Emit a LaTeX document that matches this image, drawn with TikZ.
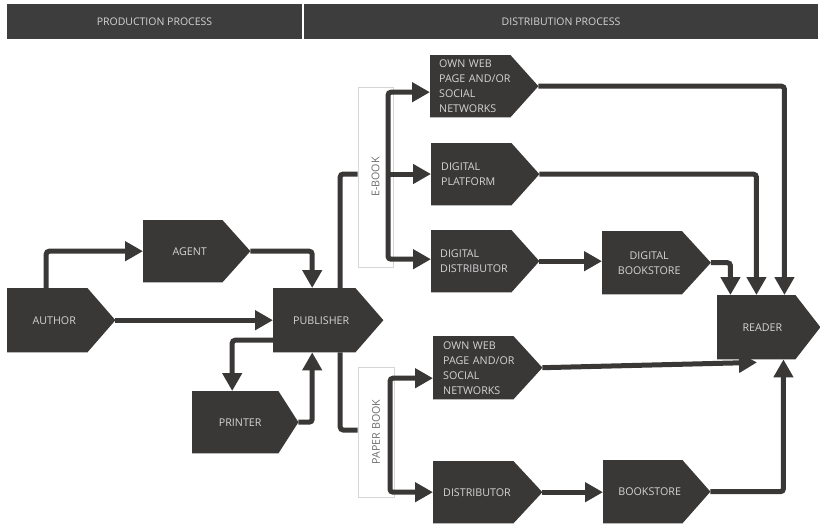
\documentclass[tikz,border=0pt]{standalone}
\usepackage{fontspec}
\setmainfont{Open Sans}
\usetikzlibrary{arrows.meta,calc}
\pgfdeclarelayer{lines}
\pgfdeclarelayer{fills}
\pgfsetlayers{lines,fills,main}

\definecolor{ink}{HTML}{3A3737}
\definecolor{band}{HTML}{3D3D3D}
\definecolor{txt}{HTML}{D4D4D4}
\definecolor{frame}{HTML}{D6D6D6}
\definecolor{booktxt}{HTML}{6E6E6E}

\newcommand\tagfont{\fontsize{10.7}{15}\selectfont}

% fills the pentagon behind a box node and names its pointer tip
\newcommand\tagfill[2]{%
  \fill[ink] (#1.north west) -- ([xshift=-#2]#1.north east) -- ([xshift=#2]#1.east)
    -- ([xshift=-#2]#1.south east) -- (#1.south west) -- cycle;
  \coordinate (#1-tip) at ([xshift=#2]#1.east);}

\tikzset{
  x=1pt, y=-1pt,
  tag/.style={anchor=north west, inner sep=0pt, text=txt, font=\tagfont},
  head/.style={fill=band, text=txt, inner sep=0pt, minimum height=35pt,
    font=\fontsize{10.5}{12}\selectfont},
  bookbox/.style={draw=frame, line width=0.6pt, fill=white, inner sep=0pt,
    text=booktxt, font=\fontsize{10.7}{12}\selectfont},
  link/.style={draw=ink, line width=5pt, rounded corners=3pt,
    -{Triangle[length=18pt,width=19pt]}},
  feed/.style={draw=ink, line width=5pt, rounded corners=3pt},
}

\begin{document}
\begin{tikzpicture}
\useasboundingbox (0,0) rectangle (820,525);

% header band
\node[head, minimum width=295pt] (prod) at (154.5,21.5) {PRODUCTION PROCESS};
\node[head, minimum width=514pt] (dist) at (561,21.5) {DISTRIBUTION PROCESS};

% production side
\node[tag, minimum width=94pt, minimum height=64pt] (author) at (7,288) {AUTHOR};
\node[tag, minimum width=93pt, minimum height=62pt] (agent) at (143,220) {AGENT};
\node[tag, minimum width=96pt, minimum height=64pt] (publisher) at (273,288) {PUBLISHER};
\node[tag, minimum width=96pt, minimum height=62pt] (printer) at (192,391) {PRINTER};

% e-book channels
\node[tag, minimum width=94pt, minimum height=62pt, align=left, text width=76pt]
  (webE) at (430,55) {OWN WEB\\PAGE AND/OR\\SOCIAL\\NETWORKS};
\node[tag, minimum width=94pt, minimum height=62pt, align=left, text width=74pt]
  (platform) at (431,143) {DIGITAL\\PLATFORM};
\node[tag, minimum width=94pt, minimum height=62pt, align=left, text width=76pt]
  (ddist) at (431,230) {DIGITAL\\DISTRIBUTOR};
\node[tag, minimum width=94pt, minimum height=63pt, align=center]
  (dstore) at (602,231) {DIGITAL\\BOOKSTORE};

% reader
\node[tag, minimum width=90.5pt, minimum height=64pt] (reader) at (717,295) {READER};

% paper book channels
\node[tag, minimum width=94.5pt, minimum height=63pt, align=left, text width=74.5pt]
  (webP) at (433,336) {OWN WEB\\PAGE AND/OR\\SOCIAL\\NETWORKS};
\node[tag, minimum width=94.5pt, minimum height=62pt, align=left, text width=74.5pt]
  (distrib) at (433,461) {DISTRIBUTOR};
\node[tag, minimum width=93pt, minimum height=63pt] (store) at (603,460) {BOOKSTORE};

\begin{pgfonlayer}{fills}
  \tagfill{author}{14pt}
  \tagfill{agent}{14pt}
  \tagfill{publisher}{14pt}
  \tagfill{printer}{10pt}
  \tagfill{webE}{14pt}
  \tagfill{platform}{14pt}
  \tagfill{ddist}{14pt}
  \tagfill{dstore}{14.5pt}
  \tagfill{reader}{12.5pt}
  \tagfill{webP}{14.5pt}
  \tagfill{distrib}{14.5pt}
  \tagfill{store}{14pt}
\end{pgfonlayer}

\begin{pgfonlayer}{lines}
  % format brackets
  \node[bookbox, minimum width=35pt, minimum height=180pt] (ebook) at (375.5,177)
    {\rotatebox{90}{E-BOOK}};
  \node[bookbox, minimum width=36pt, minimum height=130pt] (paper) at (376,432)
    {\rotatebox{90}{PAPER BOOK}};
  \coordinate (ejoin) at (388,174);
  \coordinate (pjoin) at (390,430);

  % production flow
  \draw[link] ([xshift=-8pt]author.north) |- (agent.west);
  \draw[link] (agent-tip) -| ([xshift=-9pt]publisher.north);
  \draw[link] (author-tip) -- (publisher.west);
  \draw[link] ([yshift=-20pt]publisher.west) -| ([xshift=-8pt]printer.north);
  \draw[link] (printer-tip) -| ([xshift=-9pt]publisher.south);

  % e-book distribution
  \draw[feed] ([xshift=19pt]publisher.north) |- (ejoin -| ebook.west);
  \draw[link] (ejoin) |- ([yshift=-6pt]webE.west);
  \draw[link] (ejoin) -- (ejoin -| platform.west);
  \draw[link] (ejoin) |- ([yshift=2pt]ddist.west);
  \draw[link] (webE-tip) -| ([xshift=22pt]reader.north);
  \draw[link] (platform-tip) -| ([xshift=-6pt]reader.north);
  \draw[link] (ddist-tip) -- (ddist-tip -| dstore.west);
  \draw[link] (dstore-tip) -| ([xshift=-32pt]reader.north);

  % paper book distribution
  \draw[feed] ([xshift=19pt]publisher.south) |- (pjoin -| paper.west);
  \draw[link] (pjoin) |- ([yshift=-10.5pt]webP.west);
  \draw[link] (pjoin) |- (distrib.west);
  \draw[link] (webP-tip) -- ([xshift=40pt,yshift=-3pt]reader.south west);
  \draw[link] (distrib-tip) -- (distrib-tip -| store.west);
  \draw[link] (store-tip) -| ([xshift=21pt]reader.south);
\end{pgfonlayer}
\end{tikzpicture}
\end{document}
